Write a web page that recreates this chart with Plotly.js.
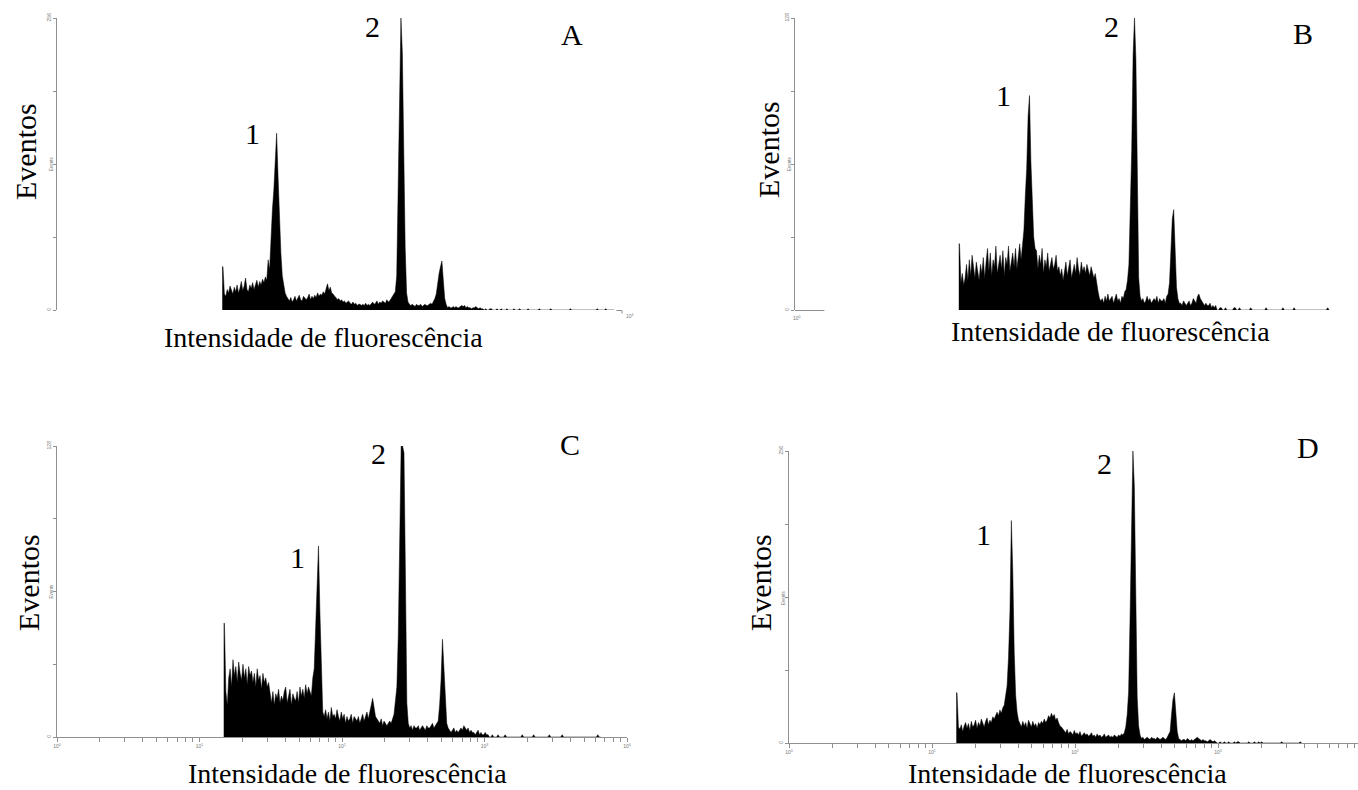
<!DOCTYPE html>
<html><head><meta charset="utf-8">
<script src="https://cdn.plot.ly/plotly-3.0.1.min.js"></script>
<style>html,body{margin:0;padding:0;background:#fff}#chart{width:1358px;height:790px}</style>
</head><body><div id="chart"></div>
<script>
// ---- data ----
const binStartLog = 1.17;   // log10 of the first channel edge
const binStepLog = 0.01;    // channel width in decades

const countsA = [38,14,
  12,18,15,21,17,14,20,16,
  22,15,19,25,17,21,28,18,16,22,
  19,24,18,23,26,20,25,22,27,24,
  29,26,
  44,35,70,88,105,128,155,117,80,50,30,20,15,12,
  10,8,11,7,9,12,8,10,13,9,8,12,10,9,
  11,14,9,12,10,13,11,15,12,14,13,16,14,
  18,23,17,20,15,14,12,
  11,9,10,8,9,7,8,6,7,8,
  6,5,7,5,6,4,5,5,4,5,4,6,4,5,4,6,
  7,5,6,8,5,7,6,8,7,6,9,7,8,10,
  11,13,16,30,100,200,256,225,130,55,15,7,
  5,4,5,4,3,5,4,4,5,3,4,5,4,4,5,6,5,7,
  10,14,24,32,38,43,26,10,5,
  2,3,2,2,3,2,3,2,2,3,4,3,4,2,3,2,2,1,2,2,3,2,1,2,1,1,0,
  1,0,0,1,1,0,0,0,1,0,0,1,0,0,
  0,1,0,0,0,0,1,0,0,0,1,0,0,0,0,0,1,0,0,0,
  0,0,0,0,1,0,0,0,0,0,0,0,1,0,0,0,0,0,0,0,
  0,0,0,0,0,0,1,0,0,0,0,0,0,0,0,0,0,0,0,0,
  0,0,0,0,0,1,0,0,0,0,0,1,0,0,0,0,0,0];

const countsB = [29,12,
  16,11,14,20,13,22,15,24,18,14,21,17,13,20,
  16,23,14,21,27,17,25,15,22,19,28,16,20,24,18,26,15,23,20,28,17,21,25,19,27,18,24,29,22,28,
  35,50,62,85,94,65,45,32,27,
  26,18,24,20,27,16,22,19,25,17,21,23,18,20,24,17,
  19,15,18,13,17,21,15,19,22,14,17,20,16,23,18,15,21,17,19,16,20,18,15,19,17,14,16,
  11,8,5,
  4,5,3,6,4,7,4,5,6,3,5,7,4,5,3,6,5,8,
  9,13,20,40,70,112,128,110,45,14,6,
  4,5,3,4,6,4,5,3,4,5,4,6,3,5,4,4,5,3,6,7,
  12,28,40,44,29,10,5,3,
  3,2,4,3,2,3,4,2,3,5,4,3,6,7,5,4,3,2,3,2,2,3,1,2,1,2,
  0,0,1,1,0,0,1,0,0,0,0,0,1,1,0,0,
  1,0,0,0,0,0,0,0,1,0,0,0,0,0,0,0,0,0,0,1,
  0,0,0,0,0,0,0,0,0,0,0,1,0,0,0,0,0,0,0,1,
  0,0,0,0,0,0,0,0,0,0,0,0,0,0,0,0,0,0,0,0,0,0,0,1,0];

const countsC = [50,20,14,26,
  30,22,34,27,31,24,33,28,25,32,26,30,23,31,27,29,24,28,22,30,25,27,21,28,24,26,22,
  24,18,15,20,14,19,17,21,15,18,16,20,22,15,18,21,14,19,17,16,20,15,22,18,21,17,23,19,22,20,18,
  26,30,48,72,84,55,28,11,
  9,12,8,11,7,13,9,10,8,12,9,7,11,8,10,6,9,7,8,10,6,9,8,7,9,6,8,10,7,9,11,8,12,
  14,17,12,9,
  8,7,6,8,5,7,6,5,6,7,6,8,
  10,16,22,45,85,128,128,125,72,15,6,
  4,5,3,5,4,4,5,3,4,5,4,3,5,4,4,5,6,4,5,6,
  7,14,25,43,30,14,6,4,
  3,2,3,4,2,3,2,3,4,3,5,4,3,4,2,3,2,2,1,2,3,1,2,1,1,2,1,1,
  0,0,1,0,0,0,1,0,0,0,0,1,0,0,
  0,0,0,0,0,0,0,0,0,1,0,0,0,0,0,0,0,1,0,0,
  0,0,0,0,0,0,0,0,1,0,0,0,0,0,0,0,0,1,0,0,
  0,0,0,0,0,0,0,0,0,0,0,0,0,0,0,0,0,0,0,0,0,0,1,0,0];

const countsD = [44,14,
  12,16,10,15,18,13,17,11,19,14,16,20,13,18,15,21,17,14,19,22,16,20,18,23,21,25,
  27,24,29,26,31,33,
  40,50,75,115,195,150,80,42,27,20,
  17,14,19,15,18,13,20,16,14,19,15,17,13,18,
  16,19,17,21,18,20,24,22,26,23,25,20,22,18,15,14,12,
  11,9,12,8,10,9,7,11,8,9,7,10,6,8,9,7,8,6,7,9,6,7,5,8,6,7,5,6,8,5,6,7,5,6,5,7,6,5,7,6,8,7,9,
  14,25,45,110,200,256,225,130,40,15,7,
  4,5,3,4,5,4,3,5,4,4,3,5,4,3,4,5,4,3,5,8,
  10,25,38,44,28,10,4,
  3,2,3,3,2,4,3,2,3,2,3,4,5,4,3,2,3,2,2,1,2,3,2,1,2,1,
  0,0,1,0,0,1,0,0,1,0,0,0,1,0,1,1,0,0,
  0,0,0,0,1,0,0,0,1,0,0,1,0,1,0,0,0,0,0,0,
  0,0,0,0,0,0,0,1,0,0,0,0,0,0,0,0,0,0,0,0,1,0];

const yMaxA = 256, yMaxB = 128, yMaxC = 128, yMaxD = 256;
const panelLetters = ['A', 'B', 'C', 'D'];
const peakLabels = ['1', '2'];
const xTitleText = 'Intensidade de fluorescência';
const yTitleText = 'Eventos';
const smallYTitleText = 'Events';
const decadeValues = [1, 10, 100, 1000, 10000];
const decadeLabels = ['10<sup>0</sup>', '10<sup>1</sup>', '10<sup>2</sup>', '10<sup>3</sup>', '10<sup>4</sup>'];
const minorMultipliers = [2, 3, 4, 5, 6, 7, 8, 9];

// ---- layout geometry (pixels of the 1358x790 page) ----
const W = 1358, H = 790;
const fx = p => p / W;
const fy = p => 1 - p / H;
const serif = 'Liberation Serif, Times New Roman, serif';

const panels = [
  {counts: countsA, ymax: yMaxA, x: [57, 622], y: [18, 310], xr: [0, 4], xaxisShown: false,
   eventos: [25, 152], inten: [323, 337], one: [252, 133], two: [372, 27], letter: [572, 34]},
  {counts: countsB, ymax: yMaxB, x: [795, 1355], y: [18, 310], xr: [0, 4], xaxisShown: false,
   eventos: [768, 150], inten: [1110, 331], one: [1003, 96], two: [1111, 27], letter: [1303, 33]},
  {counts: countsC, ymax: yMaxC, x: [57, 627], y: [446, 737], xr: [0, 4], xaxisShown: true,
   eventos: [28, 583], inten: [347, 773], one: [297, 557], two: [378, 454], letter: [570, 444]},
  {counts: countsD, ymax: yMaxD, x: [789, 1358], y: [451, 743], xr: [0, 569 / 143], xaxisShown: true,
   eventos: [760, 583], inten: [1067, 773], one: [983, 534], two: [1104, 463], letter: [1308, 447]}
];

// tick values for the log axis (decades plus minor ticks)
const logTickVals = [], logTickText = [];
decadeValues.forEach((d, k) => {
  logTickVals.push(d); logTickText.push(decadeLabels[k]);
  if (k < decadeValues.length - 1) minorMultipliers.forEach(m => { logTickVals.push(d * m); logTickText.push(''); });
});

const gray = '#8f8f8f';
const traces = [];
const layout = {
  width: W, height: H, margin: {l: 0, r: 0, t: 0, b: 0},
  paper_bgcolor: '#fff', plot_bgcolor: '#fff', showlegend: false,
  font: {family: serif, color: '#000'},
  annotations: [], shapes: []
};

panels.forEach((p, k) => {
  const s = k === 0 ? '' : String(k + 1);
  const xs = [Math.pow(10, binStartLog)], ys = [p.counts[0]];
  p.counts.forEach((c, i) => { xs.push(Math.pow(10, binStartLog + binStepLog * (i + 0.5))); ys.push(c); });
  traces.push({
    type: 'scatter', mode: 'lines', x: xs, y: ys, xaxis: 'x' + s, yaxis: 'y' + s,
    fill: 'tozeroy', fillcolor: '#000', line: {color: '#000', width: 0.5, shape: 'linear'},
    hoverinfo: 'skip'
  });
  const xa = {
    domain: [fx(p.x[0]), fx(p.x[1])], type: 'log', range: p.xr, anchor: 'y' + s,
    showgrid: false, zeroline: false, fixedrange: true
  };
  if (p.xaxisShown) {
    Object.assign(xa, {
      showline: true, linecolor: gray, linewidth: 1, ticks: 'outside', ticklen: 4, tickwidth: 1, tickcolor: gray,
      tickmode: 'array', tickvals: logTickVals, ticktext: logTickText,
      tickfont: {family: 'Liberation Sans', size: 5, color: '#777'}
    });
  } else {
    Object.assign(xa, {showline: false, showticklabels: false, ticks: ''});
  }
  const ya = {
    domain: [fy(p.y[1]), fy(p.y[0])], range: [0, p.ymax], anchor: 'x' + s,
    showline: true, linecolor: gray, linewidth: 1, ticks: 'outside', ticklen: 3, tickwidth: 1, tickcolor: gray,
    tickmode: 'array', tickvals: [0, p.ymax / 4, p.ymax / 2, 3 * p.ymax / 4, p.ymax],
    ticktext: ['0', '', '', '', String(p.ymax)], tickangle: -90,
    tickfont: {family: 'Liberation Sans', size: 5, color: '#777'},
    showgrid: false, zeroline: false, fixedrange: true
  };
  layout['xaxis' + s] = xa;
  layout['yaxis' + s] = ya;

  const ann = (pos, text, size, extra) => layout.annotations.push(Object.assign({
    xref: 'paper', yref: 'paper', x: fx(pos[0]), y: fy(pos[1]), text: text, showarrow: false,
    xanchor: 'center', yanchor: 'middle', font: {family: serif, size: size, color: '#000'}
  }, extra || {}));
  ann(p.eventos, yTitleText, 30, {textangle: -90});
  ann(p.inten, xTitleText, 28);
  ann(p.one, peakLabels[0], 30);
  ann(p.two, peakLabels[1], 30);
  ann(p.letter, panelLetters[k], 30);
  ann([p.x[0] - 6, (p.y[0] + p.y[1]) / 2], smallYTitleText, 4.5,
      {textangle: -90, font: {family: 'Liberation Sans', size: 4.5, color: '#777'}});
});

// remnants of the x axis visible in panels A and B
layout.shapes.push({type: 'line', xref: 'x', yref: 'paper', x0: Math.pow(10, 3.96), x1: decadeValues[4],
  y0: fy(310.5), y1: fy(310.5), line: {color: gray, width: 1}});
layout.shapes.push({type: 'line', xref: 'paper', yref: 'paper', x0: fx(622), x1: fx(622),
  y0: fy(310.5), y1: fy(313.5), line: {color: gray, width: 1}});
layout.annotations.push({xref: 'paper', yref: 'paper', x: fx(630), y: fy(316), text: decadeLabels[4],
  showarrow: false, font: {family: 'Liberation Sans', size: 5, color: '#777'}});
layout.shapes.push({type: 'line', xref: 'x2', yref: 'paper', x0: decadeValues[0], x1: Math.pow(10, 0.21),
  y0: fy(310.5), y1: fy(310.5), line: {color: gray, width: 1}});
layout.annotations.push({xref: 'paper', yref: 'paper', x: fx(797), y: fy(318), text: decadeLabels[0],
  showarrow: false, font: {family: 'Liberation Sans', size: 5, color: '#777'}});

Plotly.newPlot('chart', traces, layout, {displayModeBar: false, staticPlot: true});
</script>
</body></html>
